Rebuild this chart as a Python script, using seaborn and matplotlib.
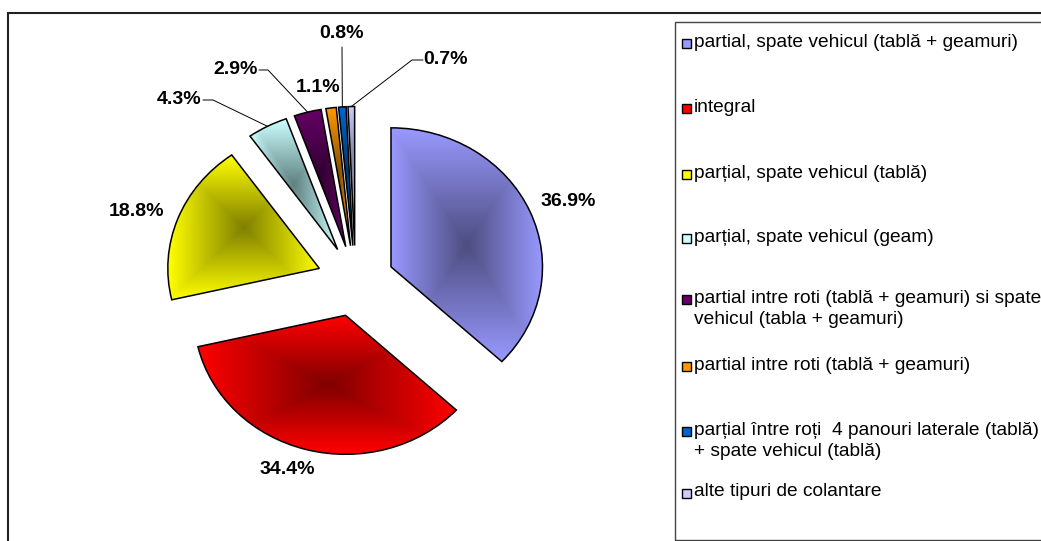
import numpy as np
import matplotlib
matplotlib.use("Agg")
import matplotlib.pyplot as plt
import seaborn as sns
from matplotlib.patches import Rectangle
from matplotlib.colors import to_rgb

# ---------------- data ----------------
categories = [
    "partial, spate vehicul (tablă + geamuri)",
    "integral",
    "parțial, spate vehicul (tablă)",
    "parțial, spate vehicul (geam)",
    "partial intre roti (tablă + geamuri) si spate\nvehicul (tabla + geamuri)",
    "partial intre roti (tablă + geamuri)",
    "parțial între roți  4 panouri laterale (tablă)\n+ spate vehicul (tablă)",
    "alte tipuri de colantare",
]
shares = [36.9, 34.4, 18.8, 4.3, 2.9, 1.1, 0.8, 0.7]
pct_labels = [f"{v:.1f}%" for v in shares]

light_colors = ["#9999FF", "#FF0000", "#FFFF00", "#CCFFFF",
                "#660066", "#FF9900", "#0066CC", "#CCCCFF"]
dark_colors = ["#4D4D80", "#800000", "#808000", "#5F8080",
               "#2E002E", "#804D00", "#003366", "#666680"]

# ---------------- layout (pixel positions, top-left origin) ----------------
W, H = 1041, 541
PIE_CX, PIE_CY, PIE_R = 355.5, 281.0, 139.0
X_STRETCH = 1.09          # the chart is drawn slightly wider than tall
EXPLODE = 35.5
label_pos = [(568, 202), (287, 469), (137, 212), (179, 100),
             (236, 70), (318, 88), (341.5, 33), (446, 60)]
# leader lines: index -> points on the label side (line ends on the wedge)
leader_pts = {3: [(203, 100), (213, 100)],
              4: [(259, 70), (268, 70)],
              6: [(342, 47)],
              7: [(423, 60), (412, 60)]}
legend_y = [43.3, 108, 174, 238, 299.5, 366, 431.5, 493]

sns.set_theme(style="white")
plt.rcParams["font.family"] = ["Liberation Sans", "DejaVu Sans"]

fig = plt.figure(figsize=(W / 100, H / 100), dpi=100)


def py(y):
    return H - y


# ---------------- pie axes (horizontally stretched) ----------------
ax_pie = fig.add_axes([0, 0, 1, 1])
wedges, _ = ax_pie.pie(shares, explode=[EXPLODE] * len(shares),
                       center=(PIE_CX, py(PIE_CY)), radius=PIE_R,
                       startangle=90, counterclock=False, colors=light_colors,
                       wedgeprops=dict(edgecolor="black", linewidth=1.1))

n = 256
g = np.linspace(-1, 1, n)
GX, GY = np.meshgrid(g, g)
T = np.maximum(np.abs(GX), np.abs(GY))[..., None]
for w, lc, dc in zip(wedges, light_colors, dark_colors):
    ext = w.get_path().get_extents()
    lc_ = np.array(to_rgb(lc))
    dc_ = np.array(to_rgb(dc))
    img = dc_ + (lc_ - dc_) * T
    im = ax_pie.imshow(img, extent=(ext.x0, ext.x1, ext.y0, ext.y1),
                       origin="lower", interpolation="bilinear", zorder=1)
    im.set_clip_path(w)
    w.set_facecolor("none")
    w.set_zorder(2)

ax_pie.set_xlim(PIE_CX - PIE_CX / X_STRETCH, PIE_CX + (W - PIE_CX) / X_STRETCH)
ax_pie.set_ylim(0, H)
ax_pie.set_aspect("auto")
ax_pie.axis("off")

# ---------------- overlay axes in pixel units ----------------
ax = fig.add_axes([0, 0, 1, 1])
ax.set_facecolor("none")
ax.patch.set_alpha(0)

for (x, y), txt in zip(label_pos, pct_labels):
    ax.text(x, py(y), txt, ha="center", va="center", fontsize=14,
            fontweight="bold", color="black", zorder=4)

for i, pts in leader_pts.items():
    w = wedges[i]
    mid = np.deg2rad((w.theta1 + w.theta2) / 2)
    ex = w.center[0] + w.r * np.cos(mid)
    ey = w.center[1] + w.r * np.sin(mid)
    ex = PIE_CX + (ex - PIE_CX) * X_STRETCH
    xs = [p[0] for p in pts] + [ex]
    ys = [py(p[1]) for p in pts] + [ey]
    ax.plot(xs, ys, color="black", lw=0.7, zorder=3)

# outer chart border
ax.add_patch(Rectangle((8, py(700)), 1200, 700 - 13, fill=False,
                       edgecolor="#222222", lw=1.5, zorder=5))

# legend box and entries
ax.add_patch(Rectangle((675, py(540)), 500, 540 - 22, fill=False,
                       edgecolor="#444444", lw=1.0, zorder=5))
for cat, y, lc in zip(categories, legend_y, light_colors):
    ax.add_patch(Rectangle((681.5, py(y) - 4.5), 9, 9, facecolor=lc,
                           edgecolor="black", lw=1.0, zorder=5))
    ax.text(694, py(y - 9.5), cat, ha="left", va="top", fontsize=13.8,
            linespacing=1.28, color="black", zorder=5)

ax.set_xlim(0, W)
ax.set_ylim(0, H)
ax.axis("off")

fig.savefig("out.png", dpi=100)
